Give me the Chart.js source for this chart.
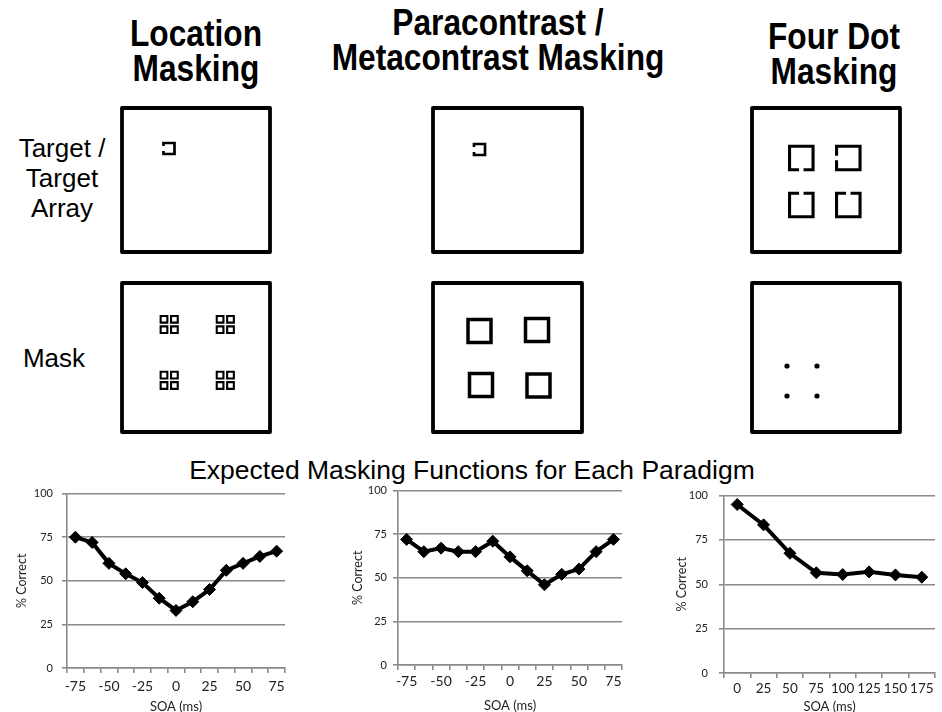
<!DOCTYPE html>
<html><head><meta charset="utf-8">
<script src="https://cdn.jsdelivr.net/npm/chart.js@4.4.1/dist/chart.umd.min.js"></script>
<style>
html,body{margin:0;padding:0;background:#fff;width:942px;height:712px;overflow:hidden;position:relative;}
canvas{position:absolute;}
.t{position:absolute;font-family:"Liberation Sans",Arial,sans-serif;color:#000;white-space:nowrap;text-align:center;}
.h{font-weight:bold;font-size:36px;line-height:35px;transform:scaleX(0.88);transform-origin:center top;}
.r{font-size:26px;line-height:30px;}
</style></head><body>
<div class="t h" style="left:76px;width:240px;top:16px">Location<br>Masking</div>
<div class="t h" style="left:298px;width:400px;top:5px">Paracontrast /<br>Metacontrast Masking</div>
<div class="t h" style="left:714px;width:240px;top:19px">Four Dot<br>Masking</div>
<div class="t r" style="left:2px;width:120px;top:133px">Target /<br>Target<br>Array</div>
<div class="t r" style="left:4px;width:100px;top:343px">Mask</div>
<div class="t r" style="left:172px;width:600px;top:455px;font-size:26.5px">Expected Masking Functions for Each Paradigm</div>

<canvas id="p11"></canvas><canvas id="p12"></canvas>
<canvas id="p21"></canvas><canvas id="p22"></canvas>
<canvas id="p31"></canvas><canvas id="p32"></canvas>
<canvas id="c1"></canvas><canvas id="c2"></canvas><canvas id="c3"></canvas>
<script>
// ---------- data: masking functions ----------
const symSoa = [-75,-62.5,-50,-37.5,-25,-12.5,0,12.5,25,37.5,50,62.5,75];
const locationCorrect = [75,72,60,54,49,40,33,38,45,56,60,64,67];
const paraMetaCorrect = [72,65,67,65,65,71,62,54,46,52,55,65,72];
const fourDotSoa = [0,25,50,75,100,125,150,175];
const fourDotCorrect = [95,83.5,67.5,56.5,55.5,57,55.3,54];
const yTickValues = [0,25,50,75,100];

// ---------- data: stimulus schematics (units = stimulus pixels inside each frame) ----------
const locTarget = [{cx:47, cy:40.5, s:11, open:'left', gap:5}];
const locMaskGroups = [[47.2,41.5],[103.3,41.5],[47.2,97.3],[103.3,97.3]];
const locMaskOffsets = [-5.2, 5.2];
const locMaskSize = 6.7;
const paraTarget = [{cx:46.5, cy:41.5, s:11, open:'left', gap:5}];
const paraMask = [{cx:46.5,cy:48,s:23},{cx:104,cy:47,s:23},{cx:48,cy:102,s:23},{cx:105.5,cy:102.5,s:23}];
const fourTarget = [{cx:49.3,cy:50,s:23.5,open:'bottom',gap:4.5},{cx:96.3,cy:50,s:23.5,open:'left',gap:4.5},
                    {cx:49.3,cy:97,s:23.5,open:'top',gap:4.5},{cx:96.3,cy:97,s:23.5,open:'top',gap:4.5}];
const fourMaskDots = [[35,83],[65,83],[35,113],[65,113]];

Chart.defaults.font.family = 'Lato, "Open Sans", sans-serif';

function outline(sh){
  const h=sh.s/2, L=sh.cx-h, R=sh.cx+h, T=sh.cy-h, B=sh.cy+h, g=(sh.gap||0)/2;
  let p;
  switch(sh.open){
    case 'left':   p=[[L,sh.cy+g],[L,B],[R,B],[R,T],[L,T],[L,sh.cy-g]]; break;
    case 'bottom': p=[[sh.cx-g,B],[L,B],[L,T],[R,T],[R,B],[sh.cx+g,B]]; break;
    case 'top':    p=[[sh.cx-g,T],[L,T],[L,B],[R,B],[R,T],[sh.cx+g,T]]; break;
    default:       p=[[sh.cx,T],[R,T],[R,B],[L,B],[L,T],[sh.cx,T]];
  }
  return p.map(([x,y])=>({x,y}));
}

function panel(id, fx, fy, fw, fh, shapes, lw, dots){
  const m=6, cv=document.getElementById(id);
  cv.width=fw+2*m; cv.height=fh+2*m;
  cv.style.left=(fx-m)+'px'; cv.style.top=(fy-m)+'px';
  const lineDs = pts => ({data:pts, showLine:true, borderColor:'#000', borderWidth:lw, pointRadius:0,
    borderJoinStyle:'miter', borderCapStyle:'butt', clip:false, fill:false});
  const ds=[{data:[{x:fw/2,y:0},{x:fw,y:0},{x:fw,y:fh},{x:0,y:fh},{x:0,y:0},{x:fw/2,y:0}], showLine:true,
    borderColor:'#000', borderWidth:3.8, pointRadius:0, borderJoinStyle:'round', clip:false, fill:false}];
  shapes.forEach(sh=>ds.push(lineDs(outline(sh))));
  if(dots) ds.push({data:dots.map(([x,y])=>({x,y})), showLine:false, pointRadius:2.6, pointBackgroundColor:'#000',
    pointBorderWidth:0, clip:false});
  new Chart(cv,{type:'scatter', data:{datasets:ds},
    options:{responsive:false, animation:false, events:[], layout:{padding:m},
      plugins:{legend:{display:false}, tooltip:{enabled:false}},
      scales:{x:{type:'linear',min:0,max:fw,display:false}, y:{type:'linear',min:0,max:fh,reverse:true,display:false}}}});
}

const locMaskShapes=[];
locMaskGroups.forEach(([gx,gy])=>locMaskOffsets.forEach(dy=>locMaskOffsets.forEach(dx=>
  locMaskShapes.push({cx:gx+dx, cy:gy+dy, s:locMaskSize}))));

panel('p11',122,108,148,144,locTarget,2.7);
panel('p12',122,283,148,149,locMaskShapes,2.1);
panel('p21',433,108,149,144,paraTarget,2.7);
panel('p22',433,283,149,149,paraMask,3.5);
panel('p31',752,108,148,144,fourTarget,3.1);
panel('p32',752,283,148,149,[],3,fourMaskDots);

function lineChart(id, cats, vals, L){
  const cv=document.getElementById(id);
  cv.width=L.w; cv.height=L.h; cv.style.left=L.x+'px'; cv.style.top=L.y+'px';
  const gray='#8a8a8a';
  return new Chart(cv,{type:'line',
    data:{labels:cats.map(String), datasets:[{data:vals, borderColor:'#000', borderWidth:4, tension:0,
      pointStyle:'rectRot', pointRadius:6, pointBackgroundColor:'#000', pointBorderColor:'#000', pointBorderWidth:1, clip:false}]},
    options:{responsive:false, animation:false, events:[],
      plugins:{legend:{display:false}, tooltip:{enabled:false}},
      layout:{padding:{left:0, top:L.padTop, right:L.padRight, bottom:0}},
      scales:{
        x:{type:'category', offset:true,
          grid:{drawOnChartArea:false, drawTicks:true, tickLength:5, color:gray, lineWidth:1.6, offset:true},
          border:{color:gray, width:1.6},
          ticks:{autoSkip:false, maxRotation:0, minRotation:0, padding:L.xPad, color:'#222', font:{size:L.xFont},
            callback:(v,i)=> (cats[i]%25===0) ? String(cats[i]) : ''},
          title:{display:true, text:'SOA (ms)', color:'#222', font:{size:13, lineHeight:1}, padding:{top:0,bottom:L.xTitlePad}},
          afterFit:s=>{s.height=L.xAxisH;}},
        y:{type:'linear', min:0, max:100,
          afterBuildTicks:s=>{s.ticks=yTickValues.map(v=>({value:v}));},
          grid:{color:gray, lineWidth:1.6, tickLength:5},
          border:{color:gray, width:1.6},
          ticks:{padding:L.yPad, color:'#222', font:{size:11}},
          title:{display:true, text:'% Correct', color:'#222', font:{size:12.5, lineHeight:1}, padding:{top:L.yTitlePad,bottom:0}},
          afterFit:s=>{s.width=L.yAxisW;}}
      }}});
}

lineChart('c1', symSoa, locationCorrect, {x:0,y:478,w:300,h:236,padTop:10,padRight:15,yAxisW:67,xAxisH:46,xPad:5,xTitlePad:1,yTitlePad:16,yPad:9,xFont:14});
lineChart('c2', symSoa, paraMetaCorrect, {x:320,y:478,w:310,h:236,padTop:10,padRight:8,yAxisW:78,xAxisH:49,xPad:3,xTitlePad:2,yTitlePad:32,yPad:6,xFont:14});
lineChart('c3', fourDotSoa, fourDotCorrect, {x:640,y:478,w:302,h:238,padTop:10,padRight:1,yAxisW:84,xAxisH:43,xPad:3,xTitlePad:3,yTitlePad:36,yPad:11,xFont:13.5});
</script>
</body></html>
